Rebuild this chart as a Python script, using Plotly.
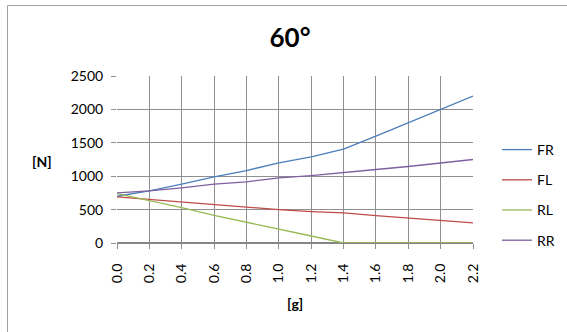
import plotly.graph_objects as go

# Lateral acceleration [g] and wheel loads [N]
accel_g = [0.0, 0.2, 0.4, 0.6, 0.8, 1.0, 1.2, 1.4, 1.6, 1.8, 2.0, 2.2]
load_fr = [700, 780, 880, 990, 1085, 1200, 1290, 1405, 1600, 1800, 2000, 2200]
load_fl = [690, 650, 620, 580, 540, 500, 470, 450, 410, 370, 335, 300]
load_rl = [740, 640, 530, 415, 315, 205, 105, 0, 0, 0, 0, 0]
load_rr = [750, 780, 825, 880, 915, 975, 1010, 1050, 1100, 1145, 1200, 1250]

series = [
    ("FR", load_fr, "#4A7EBB"),
    ("FL", load_fl, "#BE4B48"),
    ("RL", load_rl, "#98B954"),
    ("RR", load_rr, "#7D60A0"),
]

W, H = 567, 332
ML, MR, MT, MB = 117, 94, 76, 89
FONT = "Lato, 'Open Sans', sans-serif"
GRID = "#8F8F8F"

fig = go.Figure()
for i, (name, vals, color) in enumerate(series):
    fig.add_trace(go.Scatter(
        x=accel_g, y=vals, name=name, mode="lines",
        line=dict(color=color, width=1.3),
        legendgroup=str(i),
    ))

pw = W - ML - MR
ph = H - MT - MB

fig.update_layout(
    width=W, height=H,
    margin=dict(l=ML, r=MR, t=MT, b=MB, autoexpand=False),
    paper_bgcolor="white", plot_bgcolor="white",
    font=dict(family=FONT, size=14, color="#000000"),
    title=dict(text="<b>60°</b>", x=290 / W, xanchor="center",
               y=1 - 38 / H, yanchor="middle",
               font=dict(size=26, family=FONT)),
    xaxis=dict(
        range=[0, 2.2], tickvals=accel_g, tickformat=".1f", tickangle=-90,
        showgrid=True, gridcolor=GRID, gridwidth=1.2,
        showline=False, zeroline=False,
        ticks="outside", ticklen=5, tickcolor=GRID, tickwidth=1.2,
        ticklabelstandoff=9,
    ),
    yaxis=dict(
        range=[0, 2500], dtick=500,
        showgrid=True, gridcolor=GRID, gridwidth=1.2,
        zeroline=True, zerolinecolor="#858585", zerolinewidth=2,
        showline=False, ticks="outside", ticklen=5, tickcolor=GRID, tickwidth=1.2,
        ticklabelstandoff=5,
    ),
    legend=dict(
        x=(497 - ML) / pw, xanchor="left", y=(H - MB - 134) / ph,
        yanchor="top", font=dict(size=14, family=FONT),
        tracegroupgap=9, bgcolor="rgba(0,0,0,0)",
    ),
    showlegend=True,
)

# outer chart frame
fig.add_shape(type="rect", xref="paper", yref="paper",
              x0=(7.5 - ML) / pw, x1=(W + 5 - ML) / pw,
              y0=(H - MB - (H + 5)) / ph, y1=(H - MB - 5.5) / ph,
              line=dict(color="#A0A0A0", width=1), layer="below")

# axis titles
fig.add_annotation(text="<b>[N]</b>", xref="paper", yref="paper",
                   x=(42 - ML) / pw, y=(H - MB - 161) / ph,
                   xanchor="center", yanchor="middle",
                   showarrow=False, font=dict(size=14, family=FONT))
fig.add_annotation(text="<b>[g]</b>", xref="paper", yref="paper",
                   x=(295 - ML) / pw, y=(H - MB - 303) / ph,
                   xanchor="center", yanchor="middle",
                   showarrow=False, font=dict(size=14, family=FONT))

fig.write_html("out.html")
